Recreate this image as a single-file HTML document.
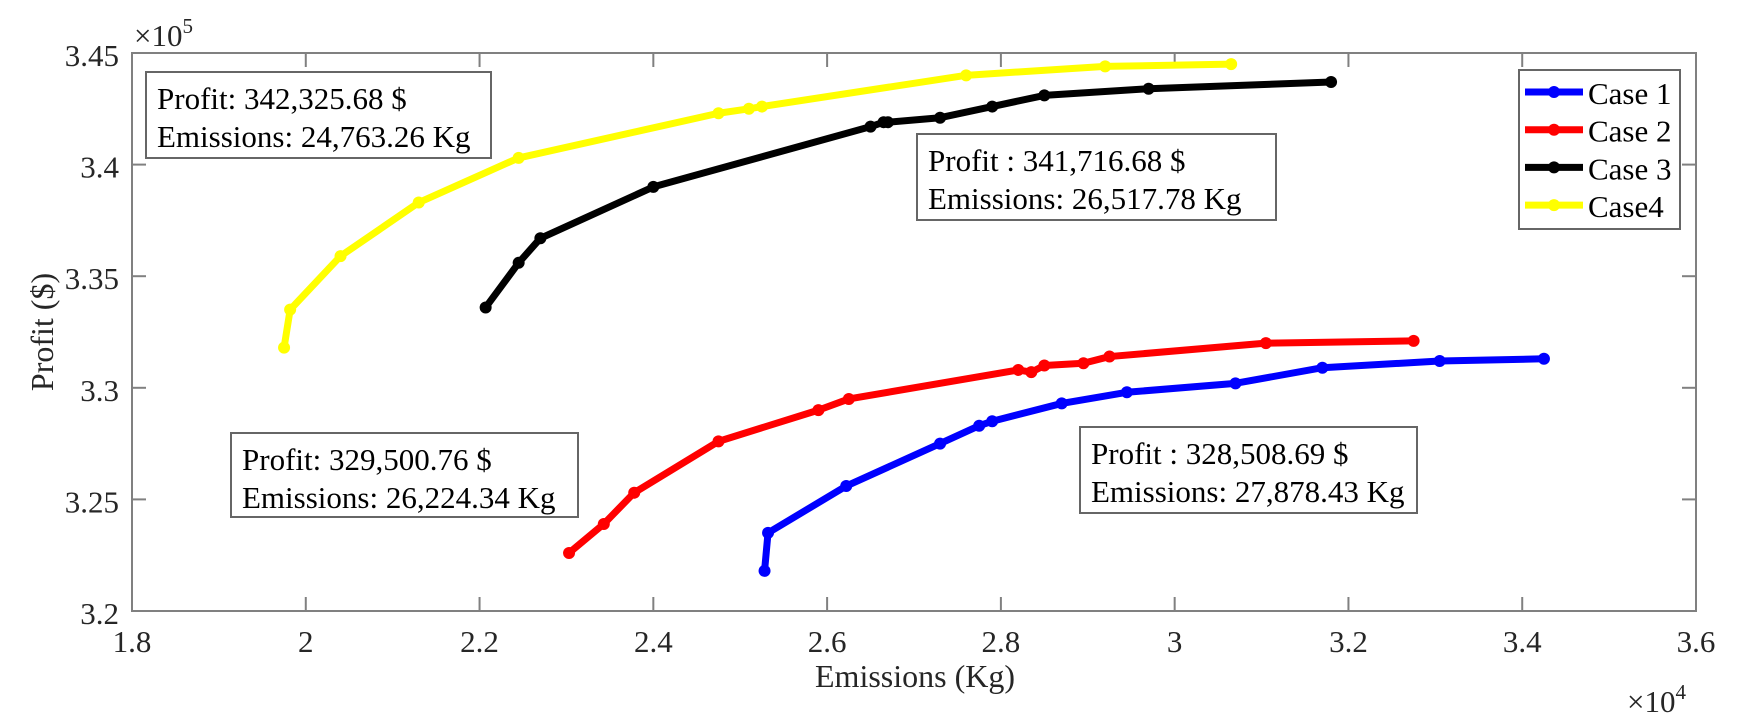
<!DOCTYPE html>
<html><head><meta charset="utf-8"><style>body{margin:0;background:#fff}svg{display:block}text{font-family:"Liberation Serif",serif;fill:#262626}</style></head><body>
<svg id="s" width="1740" height="728" xmlns="http://www.w3.org/2000/svg">
<g id="g"></g>
</svg>
<script>
const X=d=>132+(d-1.8)/1.8*1564, Y=p=>611-(p-3.2)/0.25*558;
const S=[
["#0000ff",[[2.528,3.218],[2.532,3.235],[2.622,3.256],[2.73,3.275],[2.775,3.283],[2.79,3.285],[2.87,3.293],[2.945,3.298],[3.07,3.302],[3.17,3.309],[3.305,3.312],[3.425,3.313]]],
["#ff0000",[[2.303,3.226],[2.343,3.239],[2.378,3.253],[2.475,3.276],[2.59,3.29],[2.625,3.295],[2.82,3.308],[2.835,3.307],[2.85,3.31],[2.895,3.311],[2.925,3.314],[3.105,3.32],[3.275,3.321]]],
["#000000",[[2.207,3.336],[2.245,3.356],[2.27,3.367],[2.40,3.39],[2.65,3.417],[2.665,3.419],[2.67,3.419],[2.73,3.421],[2.79,3.426],[2.85,3.431],[2.97,3.434],[3.18,3.437]]],
["#ffff00",[[1.975,3.318],[1.982,3.335],[2.04,3.359],[2.13,3.383],[2.245,3.403],[2.475,3.423],[2.51,3.425],[2.525,3.426],[2.76,3.44],[2.92,3.444],[3.065,3.445]]]];
let h='<rect x="132" y="53" width="1564" height="558" fill="none" stroke="#808080" stroke-width="2"/>';
for(let i=0;i<=9;i++){const x=132+i*1564/9;const v=(1.8+i*0.2).toFixed(1).replace(/\.0$/,'');
h+=`<line x1="${x}" y1="611" x2="${x}" y2="597" stroke="#808080" stroke-width="2"/><line x1="${x}" y1="53" x2="${x}" y2="67" stroke="#808080" stroke-width="2"/><text x="${x}" y="652" font-size="31" text-anchor="middle">${v}</text>`;}
for(let i=0;i<=5;i++){const p=3.2+i*0.05,y=Y(p);const v=[ "3.2","3.25","3.3","3.35","3.4","3.45"][i];
h+=`<line x1="132" y1="${y}" x2="146" y2="${y}" stroke="#808080" stroke-width="2"/><line x1="1696" y1="${y}" x2="1682" y2="${y}" stroke="#808080" stroke-width="2"/><text x="119" y="${y+13}" font-size="31" text-anchor="end">${v}</text>`;}
h+=`<text x="134" y="46" font-size="31">×10<tspan font-size="21" dy="-13">5</tspan></text>`;
h+=`<text x="1627" y="712" font-size="31">×10<tspan font-size="21" dy="-13">4</tspan></text>`;
h+=`<text x="915" y="687" font-size="32" text-anchor="middle">Emissions (Kg)</text>`;
h+=`<text transform="translate(53,332) rotate(-90)" font-size="32" text-anchor="middle">Profit ($)</text>`;
for(const [c,pts] of S){h+=`<polyline fill="none" stroke="${c}" stroke-width="7" stroke-linejoin="round" points="${pts.map(p=>X(p[0])+','+Y(p[1])).join(' ')}"/>`;
for(const p of pts)h+=`<circle cx="${X(p[0])}" cy="${Y(p[1])}" r="6" fill="${c}"/>`;}
const B=[[146,72,345,86,"Profit: 342,325.68 $","Emissions: 24,763.26 Kg"],[917,134,359,86,"Profit : 341,716.68 $","Emissions:  26,517.78 Kg"],[231,433,347,84,"Profit: 329,500.76 $","Emissions: 26,224.34 Kg"],[1080,427,337,86,"Profit : 328,508.69 $","Emissions: 27,878.43 Kg"]];
for(const b of B){h+=`<rect x="${b[0]}" y="${b[1]}" width="${b[2]}" height="${b[3]}" fill="#fff" stroke="#666" stroke-width="2"/><text x="${b[0]+11}" y="${b[1]+37}" font-size="31" style="fill:#000">${b[4]}</text><text x="${b[0]+11}" y="${b[1]+75}" font-size="31" style="fill:#000">${b[5]}</text>`;}
h+=`<rect x="1519" y="70" width="161" height="159" fill="#fff" stroke="#666" stroke-width="2"/>`;
const L=["Case 1","Case 2","Case 3","Case4"];
S.forEach((s,i)=>{const y=92+i*37.7;h+=`<line x1="1525" y1="${y}" x2="1583" y2="${y}" stroke="${s[0]}" stroke-width="7"/><circle cx="1554" cy="${y}" r="6" fill="${s[0]}"/><text x="1588" y="${y+12}" font-size="31" style="fill:#000">${L[i]}</text>`;});
document.getElementById('g').innerHTML=h;
</script>
</body></html>
